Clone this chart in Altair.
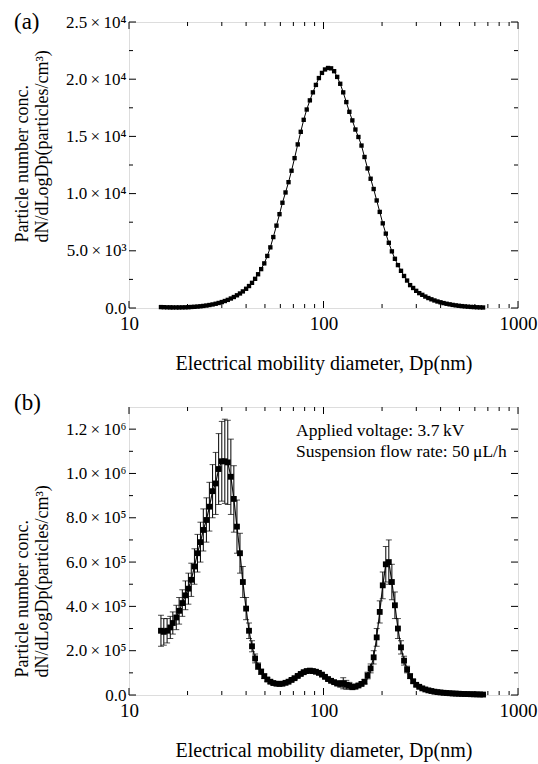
import altair as alt
import pandas as pd

# SMPS channel mid-point diameters (nm)
diam = [14.6, 15.1, 15.7, 16.3, 16.8, 17.5, 18.1, 18.8, 19.5, 20.2,
        20.9, 21.7, 22.5, 23.3, 24.1, 25.0, 25.9, 26.9, 27.9, 28.9,
        30.0, 31.1, 32.2, 33.4, 34.6, 35.9, 37.2, 38.5, 40.0, 41.4,
        42.9, 44.5, 46.1, 47.8, 49.6, 51.4, 53.3, 55.2, 57.3, 59.4,
        61.5, 63.8, 66.1, 68.5, 71.0, 73.7, 76.4, 79.1, 82.0, 85.1,
        88.2, 91.4, 94.7, 98.2, 101.8, 105.5, 109.4, 113.4, 117.6, 121.9,
        126.3, 131.0, 135.8, 140.7, 145.9, 151.2, 156.8, 162.5, 168.5, 174.7,
        181.1, 187.7, 194.6, 201.7, 209.1, 216.7, 224.7, 232.9, 241.4, 250.3,
        259.5, 269.0, 278.8, 289.0, 299.6, 310.6, 322.0, 333.8, 346.0, 358.7,
        371.8, 385.4, 399.5, 414.2, 429.4, 445.1, 461.4, 478.3, 495.8, 514.0,
        532.8, 552.3, 572.5, 593.5, 615.3, 637.8, 661.2]

# panel (a): dN/dlogDp (particles/cm3)
conc_a = [80, 70, 60, 55, 50, 50, 50, 55, 60, 70,
          90, 105, 125, 150, 180, 215, 260, 310, 370, 440,
          520, 610, 710, 830, 960, 1110, 1270, 1450, 1680, 1920,
          2200, 2550, 2950, 3400, 3900, 4550, 5300, 6200, 7200, 8200,
          9200, 10100, 11000, 12000, 13100, 14300, 15400, 16450, 17350, 18150,
          18850, 19500, 20100, 20550, 20850, 20980, 20950, 20700, 20200, 19600,
          18850, 18000, 17150, 16400, 15600, 14950, 14200, 13200, 12200, 11300,
          10400, 9400, 8400, 7400, 6500, 5700, 4950, 4300, 3750, 3250,
          2800, 2400, 2000, 1750, 1500, 1300, 1150, 1000, 870, 760,
          660, 570, 500, 430, 370, 320, 270, 230, 195, 165,
          140, 115, 95, 80, 65, 55, 45]

# panel (b): dN/dlogDp in units of 1e5 particles/cm3, and error (1e5)
conc_b_e5 = [2.9, 2.85, 2.9, 3.05, 3.25, 3.5, 3.8, 4.15, 4.5, 4.8,
             5.2, 5.8, 6.4, 6.9, 7.45, 7.9, 8.5, 9.2, 9.55, 10.2,
             10.55, 10.55, 10.5, 9.85, 8.85, 7.6, 6.4, 5.1, 3.9, 2.9,
             2.2, 1.65, 1.3, 1.05, 0.85, 0.7, 0.6, 0.54, 0.51, 0.5,
             0.51, 0.55, 0.6, 0.68, 0.76, 0.86, 0.95, 1.03, 1.08, 1.1,
             1.08, 1.05, 1.0, 0.92, 0.82, 0.72, 0.64, 0.58, 0.52, 0.5,
             0.53, 0.46, 0.42, 0.36, 0.38, 0.43, 0.5, 0.6, 0.88, 1.2,
             1.7, 2.6, 3.75, 4.95, 5.9, 6.0, 5.1, 4.05, 3.0, 2.15,
             1.55, 1.15, 0.85, 0.62, 0.46, 0.37, 0.3, 0.25, 0.21, 0.18,
             0.15, 0.13, 0.115, 0.1, 0.09, 0.08, 0.07, 0.063, 0.057, 0.05,
             0.045, 0.04, 0.036, 0.032, 0.028, 0.024, 0.02]
err_b_e5 = [0.7, 0.6, 0.55, 0.5, 0.5, 0.55, 0.6, 0.6, 0.65, 0.7,
            0.75, 0.8, 0.85, 0.9, 0.95, 1.0, 1.1, 1.2, 1.4, 1.6,
            1.8, 1.9, 1.9, 1.7, 1.5, 1.2, 0.9, 0.7, 0.5, 0.35,
            0.25, 0.2, 0.15, 0.12, 0.1, 0.08, 0.07, 0.06, 0.05, 0.05,
            0.05, 0.05, 0.05, 0.06, 0.06, 0.07, 0.07, 0.08, 0.08, 0.08,
            0.08, 0.08, 0.08, 0.07, 0.07, 0.06, 0.06, 0.06, 0.1, 0.15,
            0.25, 0.2, 0.15, 0.12, 0.1, 0.08, 0.08, 0.1, 0.15, 0.2,
            0.3, 0.4, 0.5, 0.6, 0.8, 1.0, 0.8, 0.6, 0.45, 0.3,
            0.2, 0.15, 0.1, 0.08, 0.06, 0.05, 0.04, 0.03, 0.03, 0.02,
            0.02, 0.02, 0.02, 0.02, 0.01, 0.01, 0.01, 0.01, 0.01, 0.01,
            0.01, 0.01, 0.01, 0.01, 0.01, 0.01, 0.01]

x_major = [10, 100, 1000]
x_minor = [20, 30, 40, 50, 60, 70, 80, 90, 200, 300, 400, 500, 600, 700, 800, 900]
ya_major = [0, 5000, 10000, 15000, 20000, 25000]
ya_minor = [2500, 7500, 12500, 17500, 22500]
yb_major = [0, 200000, 400000, 600000, 800000, 1000000, 1200000]
yb_minor = [100000, 300000, 500000, 700000, 900000, 1100000]

x_title = "Electrical mobility diameter, Dp(nm)"
y_title = ["Particle number conc.", "dN/dLogDp(particles/cm³)"]
annotation = "Applied voltage: 3.7\u2009kV\nSuspension flow rate: 50\u2009μL/h"

FONT = "Liberation Serif"
W = 389
HA = 286
HB = 288

df_a = pd.DataFrame({"d": diam, "conc": conc_a})
df_b = pd.DataFrame({"d": diam, "conc": [v * 1e5 for v in conc_b_e5],
                     "err": [e * 1e5 for e in err_b_e5]})
df_b["lo"] = df_b["conc"] - df_b["err"]
df_b["hi"] = df_b["conc"] + df_b["err"]

xscale = alt.Scale(type="log", domain=[10, 1000], nice=False)


def x_axis(label_pad):
    return alt.Axis(values=x_major, ticks=False, domain=False, grid=False,
                    labelFont=FONT, labelFontSize=19, labelColor="black",
                    labelPadding=label_pad, labelFlush=False, labelOverlap=False,
                    format="d", title=x_title, titleFont=FONT, titleFontSize=20,
                    titleFontWeight="normal", titleColor="black",
                    titleY=55, titleBaseline="middle")


def y_axis(vals, expr, title_y):
    return alt.Axis(values=vals, labelExpr=expr, ticks=False, domain=False, grid=False,
                    labelFont=FONT, labelFontSize=17, labelColor="black", labelPadding=3,
                    title=y_title, titleFont=FONT, titleFontSize=18, titleFontWeight="normal",
                    titleColor="black", titleAngle=270, titleAlign="left",
                    titleBaseline="top", titleX=-116, titleY=title_y, titleLineHeight=20)


def tick_layers(H, yscale, ymaj, ymin):
    layers = []
    for vals, ln in ((x_major, 7), (x_minor, 4)):
        d = pd.DataFrame({"v": vals})
        base = alt.Chart(d).mark_rule(color="black", strokeWidth=1)
        layers.append(base.encode(x=alt.X("v:Q", scale=xscale),
                                  y=alt.value(H), y2=alt.value(H - ln)))
        layers.append(base.encode(x=alt.X("v:Q", scale=xscale),
                                  y=alt.value(0), y2=alt.value(ln)))
    for vals, ln in ((ymaj, 7), (ymin, 4)):
        d = pd.DataFrame({"v": vals})
        base = alt.Chart(d).mark_rule(color="black", strokeWidth=1)
        layers.append(base.encode(y=alt.Y("v:Q", scale=yscale),
                                  x=alt.value(0), x2=alt.value(ln)))
        layers.append(base.encode(y=alt.Y("v:Q", scale=yscale),
                                  x=alt.value(W), x2=alt.value(W - ln)))
    return layers


def panel_label(txt, y):
    return alt.Chart(pd.DataFrame({"t": [txt]})).mark_text(
        font=FONT, fontSize=23, align="left", baseline="middle", color="black"
    ).encode(text="t:N", x=alt.value(-115), y=alt.value(y))


# ---------- panel (a)
ya_scale = alt.Scale(domain=[0, 25000], nice=False)
expr_a = ("datum.value == 0 ? '0.0' : (datum.value < 10000 ? "
          "format(datum.value/1000, '.1f') + '\u2009×\u200910³' : "
          "format(datum.value/10000, '.1f') + '\u2009×\u200910⁴')")
base_a = alt.Chart(df_a).encode(
    x=alt.X("d:Q", scale=xscale, axis=x_axis(6)),
    y=alt.Y("conc:Q", scale=ya_scale, axis=y_axis(ya_major, expr_a, 220)),
)
line_a = base_a.mark_line(color="black", strokeWidth=1)
pts_a = base_a.mark_point(shape="square", filled=True, size=19, color="black", opacity=1)
panel_a = alt.layer(line_a, pts_a, *tick_layers(HA, ya_scale, ya_major, ya_minor),
                    panel_label("(a)", 0)).properties(width=W, height=HA)

# ---------- panel (b)
yb_scale = alt.Scale(domain=[0, 1300000], nice=False)
expr_b = ("datum.value == 0 ? '0.0' : (datum.value < 1000000 ? "
          "format(datum.value/100000, '.1f') + '\u2009×\u200910⁵' : "
          "format(datum.value/1000000, '.1f') + '\u2009×\u200910⁶')")
base_b = alt.Chart(df_b).encode(
    x=alt.X("d:Q", scale=xscale, axis=x_axis(6)),
    y=alt.Y("conc:Q", scale=yb_scale, axis=y_axis(yb_major, expr_b, 270)),
)
err_rule = alt.Chart(df_b).mark_rule(color="black", strokeWidth=1).encode(
    x=alt.X("d:Q", scale=xscale),
    y=alt.Y("lo:Q", scale=yb_scale), y2="hi:Q")
cap_lo = alt.Chart(df_b).mark_tick(color="black", orient="horizontal", size=6, thickness=1).encode(
    x=alt.X("d:Q", scale=xscale), y=alt.Y("lo:Q", scale=yb_scale))
cap_hi = alt.Chart(df_b).mark_tick(color="black", orient="horizontal", size=6, thickness=1).encode(
    x=alt.X("d:Q", scale=xscale), y=alt.Y("hi:Q", scale=yb_scale))
line_b = base_b.mark_line(color="#111111", strokeWidth=1.2)
pts_b = base_b.mark_point(shape="square", filled=True, size=34, color="black", opacity=1)
annot = alt.Chart(pd.DataFrame({"t": [annotation]})).mark_text(
    font=FONT, fontSize=17.5, align="left", baseline="top", lineBreak="\n",
    lineHeight=21, color="black"
).encode(text="t:N", x=alt.value(167), y=alt.value(15))
panel_b = alt.layer(line_b, pts_b, err_rule, cap_lo, cap_hi,
                    *tick_layers(HB, yb_scale, yb_major, yb_minor),
                    panel_label("(b)", -4), annot).properties(width=W, height=HB)

chart = alt.vconcat(panel_a, panel_b, spacing=99, bounds="flush").properties(
    padding={"left": 12, "top": 10, "right": 0, "bottom": 5}
).configure_view(stroke="black", strokeWidth=1.5).configure(background="white")

chart.save("out.html", embed_options={"renderer": "svg", "actions": False})
